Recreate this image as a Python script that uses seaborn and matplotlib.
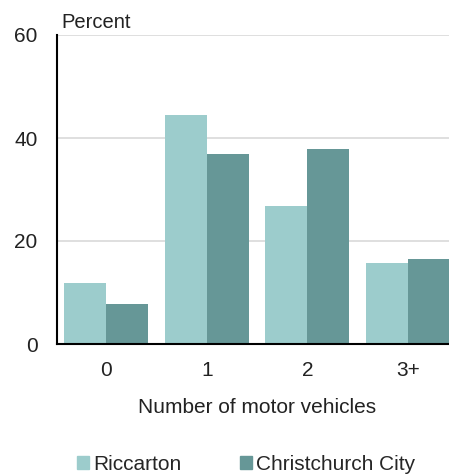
import numpy as np
import pandas as pd
import matplotlib
matplotlib.use('Agg')
import matplotlib.pyplot as plt
import seaborn as sns

# Данные
categories = ['0', '1', '2', '3+']
riccarton = [11.9, 44.5, 26.7, 15.8]
christchurch = [7.7, 36.8, 37.9, 16.5]
series_names = ['Riccarton', 'Christchurch City']
colors = ['#9ccccc', '#669797']

df = pd.DataFrame({
    'vehicles': categories * 2,
    'percent': riccarton + christchurch,
    'area': [series_names[0]] * 4 + [series_names[1]] * 4,
})

sns.set_style('white')
plt.rcParams['font.family'] = ['Liberation Sans', 'DejaVu Sans']

fig = plt.figure(figsize=(4.49, 4.76), dpi=100)
ax = fig.add_axes([57 / 449, 132 / 476, 400 / 449, 309 / 476])

sns.barplot(data=df, x='vehicles', y='percent', hue='area', order=categories,
            hue_order=series_names, palette=colors, width=0.835, gap=0,
            saturation=1, linewidth=0, ax=ax, legend=False)

ax.set_xlim(-0.49, 3.49)
ax.set_ylim(0, 60)
ax.set_yticks([0, 20, 40, 60])
ax.yaxis.grid(True, color='#d9d9d9', linewidth=1.2)
ax.set_axisbelow(True)
for s in ['top', 'right']:
    ax.spines[s].set_visible(False)
for s in ['left', 'bottom']:
    ax.spines[s].set_color('black')
    ax.spines[s].set_linewidth(1.5)
ax.tick_params(length=0, labelsize=15, colors='#222222')
ax.tick_params(axis='y', pad=14)
ax.tick_params(axis='x', pad=12)
ax.set_ylabel('')
ax.set_xlabel('Number of motor vehicles', fontsize=15, labelpad=13, color='#222222')
ax.text(0.01, 1.01, 'Percent', transform=ax.transAxes, fontsize=14.5,
        color='#222222', va='bottom', ha='left')

handles = [plt.Rectangle((0, 0), 1, 1, color=c) for c in colors]
fig.legend(handles, series_names, loc='center', bbox_to_anchor=(0.548, 0.024),
           ncol=2, frameon=False, fontsize=15, handlelength=0.6,
           handleheight=0.6, handletextpad=0.2, columnspacing=2.8)

fig.savefig('out.png', dpi=100)
